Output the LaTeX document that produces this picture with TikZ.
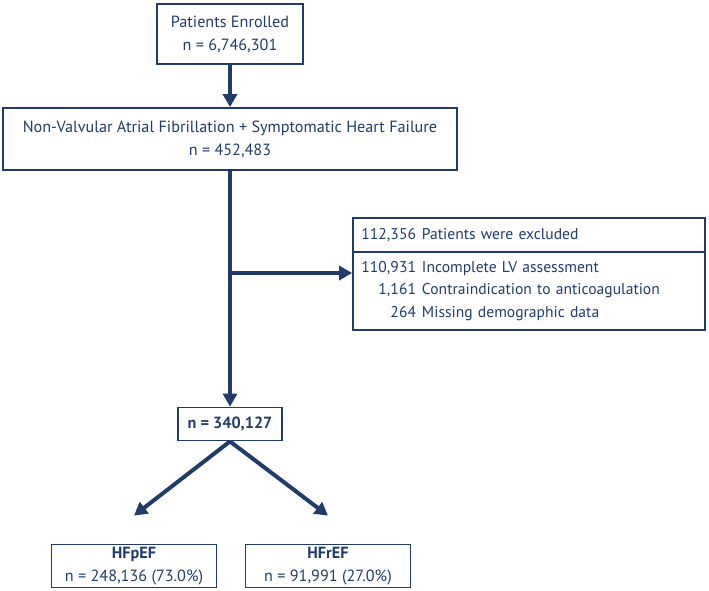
\documentclass[tikz,border=0pt]{standalone}
\usepackage{fontspec}
\setmainfont{PT Sans}
\usetikzlibrary{arrows.meta}
\definecolor{navy}{RGB}{33,60,104}
\newcommand{\exrow}[2]{\makebox[55pt][r]{#1}\hspace{6pt}#2}

\begin{document}
\begin{tikzpicture}[x=1pt,y=-1pt,
  box/.style={draw=navy, line width=1.8pt, text=navy, align=center, inner sep=0pt, font=\fontsize{16.2}{23}\selectfont},
  exbox/.style={box, minimum width=352, inner xsep=8pt, text width=336, align=left, font=\fontsize{15.6}{22.5}\selectfont},
  flow/.style={draw=navy, line width=4pt, -{Triangle[length=13pt,width=14pt]}}]
\useasboundingbox (0,0) rectangle (709,590);
\node[box, minimum width=146, minimum height=60] (1) at (230,34) {Patients Enrolled\\n = 6,746,301};
\node[box, minimum width=454, minimum height=62] (2) at (230,139) {Non-Valvular Atrial Fibrillation + Symptomatic Heart Failure\\n = 452,483};
\node[exbox, minimum height=34] (3) at (529,235) {\exrow{112,356}{Patients were excluded}};
\node[exbox, minimum height=78] (4) at (529,291) {\exrow{110,931}{Incomplete LV assessment}\\
  \exrow{1,161}{Contraindication to anticoagulation}\\
  \exrow{264}{Missing demographic data}};
\node[box, minimum width=104, minimum height=33, font=\fontsize{16.2}{23}\selectfont\bfseries] (5) at (230,424) {n = 340,127};
\node[box, minimum width=165, minimum height=43] (6) at (134,566) {\textbf{HFpEF}\\n = 248,136 (73.0\%)};
\node[box, minimum width=165, minimum height=43] (7) at (328,566) {\textbf{HFrEF}\\n = 91,991 (27.0\%)};
\coordinate (b) at (230,273);
\path[flow] (1) -- (2);
\path[flow] (2) -- (5);
\path[flow] (b) -- (b -| 4.west);
\path[flow] (5.south) -- ([yshift=28pt]6.north);
\path[flow] (5.south) -- ([yshift=28pt]7.north);
\end{tikzpicture}
\end{document}
